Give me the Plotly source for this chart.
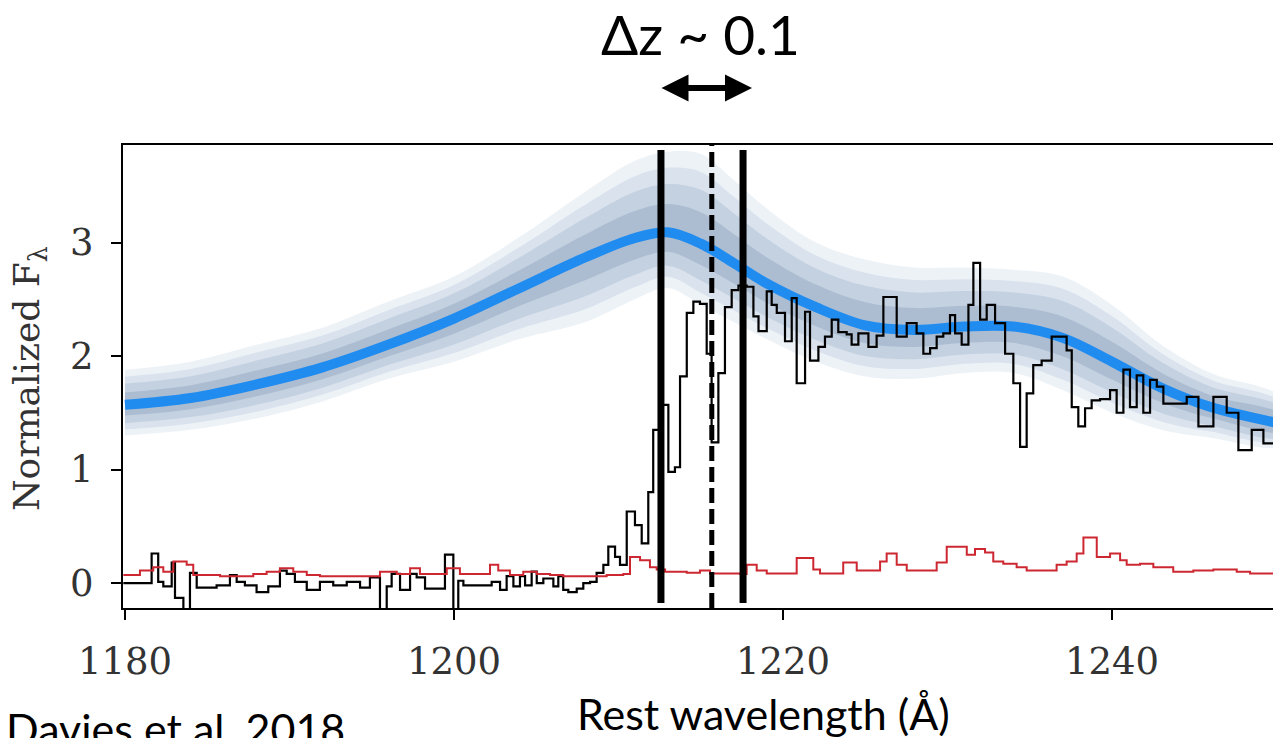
import plotly.graph_objects as go

# ---------------- data ----------------
# continuum model (mean) and spread of posterior samples
cont_x = [1180, 1184, 1188, 1192, 1196, 1200, 1204, 1208, 1211, 1213, 1215, 1217,
          1219, 1222, 1225, 1228, 1231, 1234, 1237, 1240, 1243, 1246, 1250.4]
cont_mean = [1.57, 1.63, 1.75, 1.90, 2.10, 2.33, 2.60, 2.87, 3.04, 3.09, 2.99, 2.82,
             2.64, 2.43, 2.27, 2.23, 2.26, 2.26, 2.16, 1.95, 1.72, 1.55, 1.40]
cont_hi = [1.88, 1.95, 2.10, 2.25, 2.48, 2.70, 3.05, 3.45, 3.72, 3.80, 3.78, 3.55,
           3.30, 3.00, 2.85, 2.78, 2.78, 2.76, 2.70, 2.45, 2.10, 1.85, 1.62]
cont_lo = [1.30, 1.35, 1.45, 1.60, 1.80, 1.95, 2.15, 2.30, 2.50, 2.60, 2.45, 2.30,
           2.15, 1.95, 1.82, 1.80, 1.85, 1.85, 1.70, 1.50, 1.35, 1.28, 1.22]

# observed spectrum (step, left bin edges)
flux_x = [1179.9, 1181.62, 1182.02, 1182.33, 1182.84, 1183.04, 1183.55, 1183.95, 1184.36,
          1185.57, 1186.38, 1186.79, 1187.29, 1188.00, 1188.71, 1189.42, 1189.83, 1190.33,
          1191.05, 1191.85, 1192.66, 1193.48, 1194.29, 1194.89, 1195.50, 1195.91, 1196.21,
          1196.72, 1197.33, 1197.73, 1198.24, 1199.45, 1199.96, 1200.26, 1200.57, 1202.29,
          1202.80, 1203.20, 1203.61, 1204.01, 1204.32, 1204.72, 1205.03, 1205.43, 1206.04,
          1206.34, 1206.64, 1206.95, 1207.46, 1207.86, 1208.27, 1208.67, 1209.08, 1209.38,
          1209.79, 1210.09, 1210.50, 1211.00, 1211.41, 1211.81, 1212.11, 1212.50, 1213.03,
          1213.43, 1213.74, 1214.15, 1214.55, 1214.95, 1215.36, 1215.66, 1216.07, 1216.47,
          1216.88, 1217.29, 1217.79, 1218.20, 1218.51, 1219.01, 1219.31, 1219.62, 1220.12,
          1220.53, 1220.83, 1221.34, 1221.64, 1222.15, 1222.55, 1222.96, 1223.36, 1223.87,
          1224.17, 1224.58, 1225.19, 1225.69, 1226.10, 1226.91, 1227.52, 1228.12, 1228.53,
          1228.94, 1229.34, 1229.74, 1230.15, 1230.46, 1230.86, 1231.27, 1231.57, 1231.98,
          1232.38, 1232.89, 1233.50, 1234.00, 1234.41, 1234.81, 1235.21, 1235.72, 1236.33,
          1237.24, 1237.55, 1237.95, 1238.36, 1238.76, 1239.27, 1239.88, 1240.28, 1240.69,
          1241.09, 1241.50, 1241.90, 1242.31, 1242.72, 1243.12, 1244.54, 1245.25, 1246.16,
          1246.97, 1247.68, 1248.49, 1249.20, 1250.11, 1250.4]
flux_y = [0.00, 0.26, 0.01, -0.03, 0.18, -0.13, -0.35, 0.09, -0.04,
          -0.02, 0.07, 0.01, -0.02, -0.08, -0.03, 0.11, 0.08, 0.01,
          -0.06, 0.01, -0.02, 0.01, -0.04, 0.05, -0.35, -0.03, 0.08,
          -0.06, 0.08, 0.05, -0.05, 0.25, -0.35, 0.02, -0.02, 0.01,
          -0.06, 0.06, -0.03, 0.06, -0.02, 0.10, 0.00, 0.04, -0.03,
          0.06, -0.06, -0.08, -0.05, 0.00, 0.01, 0.09, 0.16, 0.32,
          0.23, 0.16, 0.63, 0.51, 0.35, 0.80, 1.35, 1.57, 0.98,
          1.02, 1.82, 2.38, 2.48, 2.46, 2.02, 1.24, 1.85, 2.43,
          2.58, 2.62, 2.61, 2.35, 2.22, 2.57, 2.45, 2.38, 2.13,
          2.51, 1.76, 2.39, 1.96, 2.08, 2.17, 2.32, 2.21, 2.19,
          2.10, 2.20, 2.08, 2.18, 2.52, 2.17, 2.29, 2.20, 2.02,
          2.07, 2.17, 2.20, 2.36, 2.20, 2.10, 2.45, 2.82, 2.32,
          2.45, 2.29, 2.02, 1.76, 1.20, 1.67, 1.92, 1.96, 2.17,
          2.05, 1.55, 1.38, 1.54, 1.61, 1.62, 1.70, 1.50, 1.88,
          1.55, 1.83, 1.50, 1.79, 1.73, 1.58, 1.64, 1.38, 1.64,
          1.50, 1.17, 1.35, 1.23, 1.41, 1.41]

# noise spectrum (step, left bin edges)
err_x = [1179.9, 1180.91, 1181.72, 1182.33, 1182.94, 1183.75, 1184.15, 1185.78, 1187.80,
         1188.61, 1189.42, 1190.23, 1191.05, 1191.85, 1195.50, 1196.52, 1197.33, 1197.93,
         1199.56, 1200.36, 1202.19, 1202.69, 1203.40, 1204.21, 1205.03, 1205.84, 1206.64,
         1209.28, 1210.29, 1210.70, 1211.31, 1211.91, 1212.32, 1212.83, 1214.15, 1214.95,
         1215.56, 1217.39, 1217.79, 1218.40, 1219.01, 1220.83, 1221.84, 1222.25, 1223.66,
         1224.48, 1225.90, 1226.30, 1226.91, 1227.52, 1229.34, 1229.95, 1231.17, 1231.67,
         1232.28, 1232.78, 1233.39, 1234.20, 1234.81, 1236.63, 1237.24, 1237.85, 1238.26,
         1239.07, 1239.88, 1240.49, 1240.89, 1241.70, 1242.51, 1243.72, 1244.94, 1246.16,
         1247.58, 1248.39, 1250.4]
err_y = [0.07, 0.11, 0.14, 0.10, 0.19, 0.16, 0.07, 0.06, 0.08,
         0.10, 0.13, 0.10, 0.07, 0.06, 0.10, 0.08, 0.13, 0.08,
         0.13, 0.08, 0.16, 0.11, 0.07, 0.10, 0.08, 0.07, 0.06,
         0.07, 0.08, 0.23, 0.20, 0.14, 0.12, 0.10, 0.09, 0.11,
         0.085, 0.08, 0.16, 0.11, 0.085, 0.22, 0.12, 0.085, 0.18,
         0.11, 0.19, 0.26, 0.16, 0.11, 0.18, 0.32, 0.25, 0.30,
         0.27, 0.19, 0.17, 0.14, 0.11, 0.16, 0.19, 0.26, 0.40,
         0.23, 0.26, 0.20, 0.16, 0.17, 0.14, 0.10, 0.11, 0.12,
         0.10, 0.085, 0.085]

# reference lines (Angstrom)
z_lines_solid = [1212.58, 1217.57]
lya = 1215.67
x_ticks = [1180, 1200, 1220, 1240]
y_ticks = [0, 1, 2, 3]

# ---------------- figure ----------------
fig = go.Figure()

def band(frac, color):
    hi = [m + (h - m) * frac for m, h in zip(cont_mean, cont_hi)]
    lo = [m - (m - l) * frac for m, l in zip(cont_mean, cont_lo)]
    fig.add_trace(go.Scatter(
        x=cont_x + cont_x[::-1], y=hi + lo[::-1], fill="toself",
        fillcolor=color, line=dict(width=0, shape="spline"),
        mode="lines", hoverinfo="skip", showlegend=False))

band(1.0, "rgba(130,165,200,0.14)")
band(0.8, "rgba(110,145,185,0.16)")
band(0.6, "rgba(100,135,170,0.18)")
band(0.35, "rgba(90,120,155,0.22)")

fig.add_trace(go.Scatter(x=cont_x, y=cont_mean, mode="lines",
                         line=dict(color="rgb(33,140,240)", width=10, shape="spline"),
                         showlegend=False))
fig.add_trace(go.Scatter(x=flux_x, y=flux_y, mode="lines",
                         line=dict(color="black", width=2.2, shape="hv"),
                         showlegend=False))
fig.add_trace(go.Scatter(x=err_x, y=err_y, mode="lines",
                         line=dict(color="rgb(205,40,50)", width=2, shape="hv"),
                         showlegend=False))

for xs in z_lines_solid:
    fig.add_shape(type="line", x0=xs, x1=xs, y0=-0.176, y1=3.815, xref="x", yref="y",
                  line=dict(color="black", width=7))
fig.add_shape(type="line", x0=lya, x1=lya, y0=-0.22, y1=3.86, xref="x", yref="y",
              line=dict(color="black", width=5, dash="15px,6px"))

serif = "DejaVu Serif"
sans = "Lato"

# page body has an ~8px margin, so the figure is laid out from (8, 8)
W, H = 1273, 730
L, T, PW, PH = 115, 137, 1158, 463

def px_x(sx):  # screen x -> paper
    return (sx - 8 - L) / PW

def px_y(sy):  # screen y -> paper
    return (T + PH - (sy - 8)) / PH

fig.update_layout(
    width=W, height=H,
    margin=dict(l=L, r=W - L - PW, t=T, b=H - T - PH),
    paper_bgcolor="white", plot_bgcolor="white",
    xaxis=dict(range=[1179.88, 1250.27], tickvals=x_ticks, ticks="outside",
               ticklen=10, tickwidth=2, tickcolor="black", showline=True,
               linecolor="black", linewidth=2, mirror=True, showgrid=False,
               zeroline=False, ticklabelstandoff=10,
               tickfont=dict(family=serif, size=37, color="#333")),
    yaxis=dict(range=[-0.22, 3.859], tickvals=y_ticks, ticks="outside",
               ticklen=10, tickwidth=2, tickcolor="black", showline=True,
               linecolor="black", linewidth=2, mirror=False, showgrid=False,
               zeroline=False, ticklabelstandoff=10,
               tickfont=dict(family=serif, size=37, color="#333")),
    annotations=[
        dict(text="Normalized F<sub>λ</sub>", textangle=-90, xref="paper", yref="paper",
             x=px_x(29), y=px_y(378), showarrow=False, xanchor="center", yanchor="middle",
             font=dict(family=serif, size=36, color="#333")),
        dict(text="Rest wavelength (Å)", xref="paper", yref="paper",
             x=px_x(763), y=px_y(713), showarrow=False,
             xanchor="center", yanchor="middle",
             font=dict(family=sans, size=43, color="black")),
        dict(text="Davies et al. 2018", xref="paper", yref="paper",
             x=px_x(4), y=px_y(729), showarrow=False,
             xanchor="left", yanchor="middle",
             font=dict(family=sans, size=43, color="black")),
        dict(text="Δz ~ 0.1", xref="paper", yref="paper",
             x=px_x(700), y=px_y(34), showarrow=False,
             xanchor="center", yanchor="middle",
             font=dict(family=sans, size=55, color="black")),
        dict(x=px_x(752), y=px_y(88), xref="paper", yref="paper",
             ax=-92, ay=0, axref="pixel", ayref="pixel", text="", showarrow=True,
             arrowhead=2, startarrowhead=2, arrowside="end+start",
             arrowsize=0.9, startarrowsize=0.9, arrowwidth=6, arrowcolor="black"),
    ],
)

fig.write_html("out.html")
